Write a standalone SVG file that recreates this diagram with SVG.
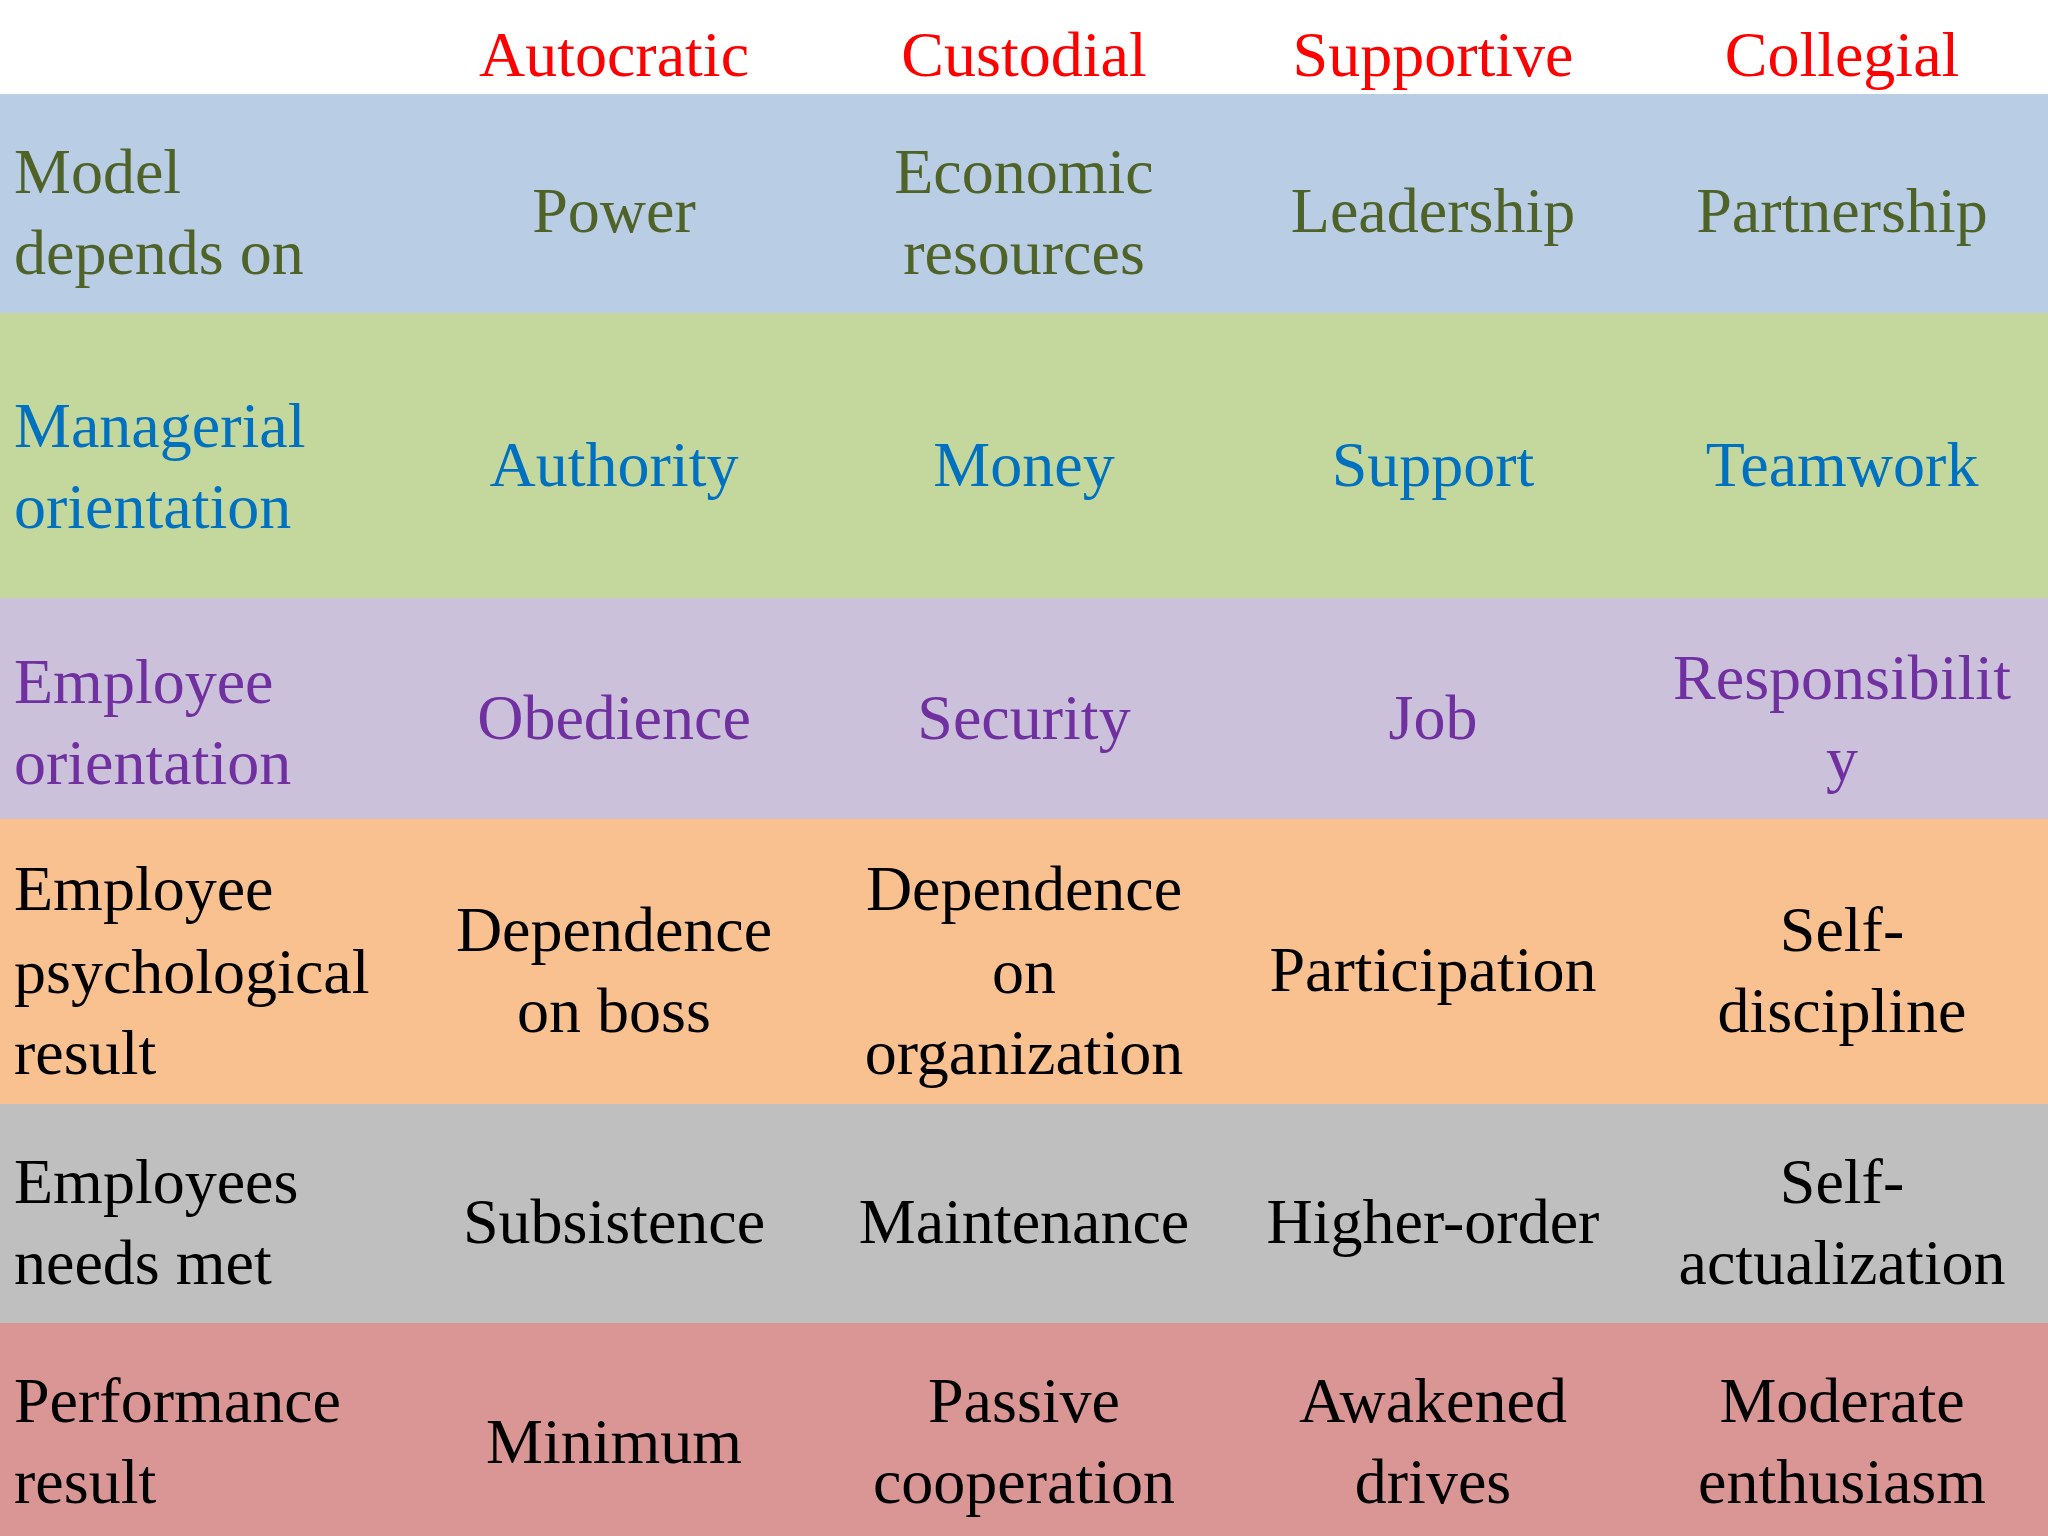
<svg xmlns="http://www.w3.org/2000/svg" width="2048" height="1536" viewBox="0 0 2048 1536">
<style>
text{font-family:"Liberation Serif","Times New Roman",serif;font-size:64px}
.c{text-anchor:middle}
.h{fill:#FF0000}
.r1{fill:#4F6228}.r2{fill:#0070C0}.r3{fill:#7030A0}.r4{fill:#000}
</style>
<rect width="2048" height="1536" fill="#fff"/>
<g id="header" class="h">
<text class="c" x="614" y="76">Autocratic</text>
<text class="c" x="1024" y="76">Custodial</text>
<text class="c" x="1433" y="76">Supportive</text>
<text class="c" x="1842" y="76">Collegial</text>
</g>
<g id="row1" class="r1">
<rect x="0" y="94" width="2048" height="219" fill="#B9CDE5"/>
<text x="14" y="193">Model</text><text x="14" y="274">depends on</text>
<text class="c" x="614" y="232">Power</text>
<text class="c" x="1024" y="193">Economic</text><text class="c" x="1024" y="274">resources</text>
<text class="c" x="1433" y="232">Leadership</text>
<text class="c" x="1842" y="232">Partnership</text>
</g>
<g id="row2" class="r2">
<rect x="0" y="313" width="2048" height="285" fill="#C4D79C"/>
<text x="14" y="447">Managerial</text><text x="14" y="528">orientation</text>
<text class="c" x="614" y="486">Authority</text>
<text class="c" x="1024" y="486">Money</text>
<text class="c" x="1433" y="486">Support</text>
<text class="c" x="1842" y="486">Teamwork</text>
</g>
<g id="row3" class="r3">
<rect x="0" y="598" width="2048" height="221" fill="#CCC1DA"/>
<text x="14" y="703">Employee</text><text x="14" y="784">orientation</text>
<text class="c" x="614" y="739">Obedience</text>
<text class="c" x="1024" y="739">Security</text>
<text class="c" x="1433" y="739">Job</text>
<text class="c" x="1842" y="699">Responsibilit</text><text class="c" x="1842" y="780">y</text>
</g>
<g id="row4" class="r4">
<rect x="0" y="819" width="2048" height="285" fill="#F9C090"/>
<text x="14" y="910">Employee</text><text x="14" y="993">psychological</text><text x="14" y="1074">result</text>
<text class="c" x="614" y="951">Dependence</text><text class="c" x="614" y="1032">on boss</text>
<text class="c" x="1024" y="910">Dependence</text><text class="c" x="1024" y="993">on</text><text class="c" x="1024" y="1074">organization</text>
<text class="c" x="1433" y="991">Participation</text>
<text class="c" x="1842" y="951">Self-</text><text class="c" x="1842" y="1032">discipline</text>
</g>
<g id="row5" class="r4">
<rect x="0" y="1104" width="2048" height="219" fill="#BFBFBF"/>
<text x="14" y="1203">Employees</text><text x="14" y="1284">needs met</text>
<text class="c" x="614" y="1243">Subsistence</text>
<text class="c" x="1024" y="1243">Maintenance</text>
<text class="c" x="1433" y="1243">Higher-order</text>
<text class="c" x="1842" y="1203">Self-</text><text class="c" x="1842" y="1284">actualization</text>
</g>
<g id="row6" class="r4">
<rect x="0" y="1323" width="2048" height="213" fill="#D99694"/>
<text x="14" y="1422">Performance</text><text x="14" y="1503">result</text>
<text class="c" x="614" y="1463">Minimum</text>
<text class="c" x="1024" y="1422">Passive</text><text class="c" x="1024" y="1503">cooperation</text>
<text class="c" x="1433" y="1422">Awakened</text><text class="c" x="1433" y="1503">drives</text>
<text class="c" x="1842" y="1422">Moderate</text><text class="c" x="1842" y="1503">enthusiasm</text>
</g>
<g id="connectors"/>
</svg>
